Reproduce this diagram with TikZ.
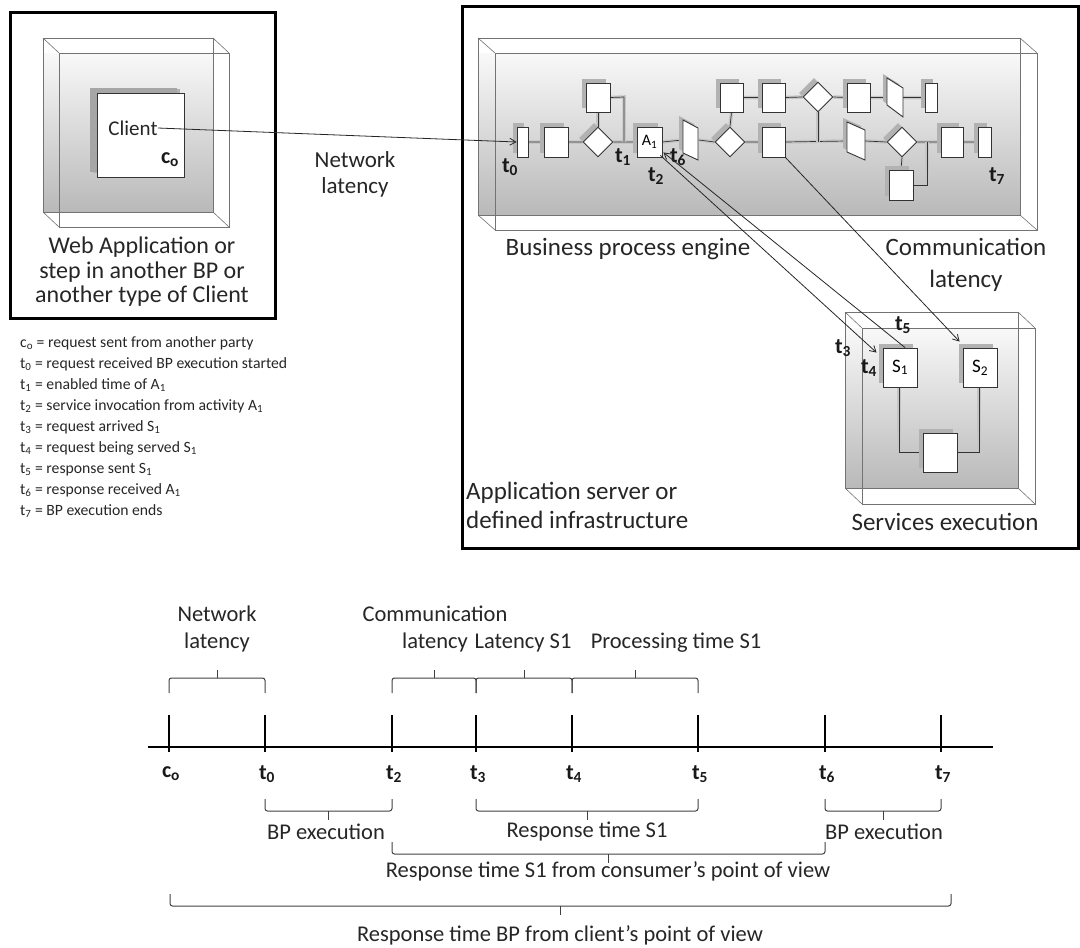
\documentclass[tikz,border=0pt]{standalone}
\usepackage{fontspec}
\setmainfont{Carlito}
\usetikzlibrary{shapes.geometric,shadows,arrows.meta,calc}
\pgfdeclarelayer{back}
\pgfdeclarelayer{links}
\pgfsetlayers{back,links,main}
\newcommand{\glassbox}[6]{% back x1 y1 x2 y2, depth dx dy
  \fill[pane] (#1,#2+#6) rectangle (#3,#4);
  \draw[wall] (#1,#2) rectangle (#3,#4);
  \draw[wall] (#1+#5,#2+#6) rectangle (#3+#5,#4+#6);
  \draw[wall] (#1,#2) -- (#1+#5,#2+#6) (#3,#2) -- (#3+#5,#2+#6)
              (#1,#4) -- (#1+#5,#4+#6) (#3,#4) -- (#3+#5,#4+#6);
}
\newcommand{\brkup}[3]{% x1 x2 ybottom, tip up
  \draw[brk] (#1,#3) -- (#1,#3-15) -- (#2,#3-15) -- (#2,#3);
  \draw[brk] ({(#1+#2)/2},#3-15) -- ({(#1+#2)/2},#3-23);
}
\newcommand{\brkdown}[3]{% x1 x2 ytop, tip down
  \draw[brk] (#1,#3) -- (#1,#3+12) -- (#2,#3+12) -- (#2,#3);
  \draw[brk] ({(#1+#2)/2},#3+12) -- ({(#1+#2)/2},#3+21);
}
\begin{document}
\begin{tikzpicture}[x=1pt,y=-1pt,
  act/.style={draw=black!80, fill=white, line width=0.9pt, inner sep=0pt,
    drop shadow={shadow xshift=-4pt, shadow yshift=4pt, fill=gray!60, opacity=1}},
  dia/.style={act, diamond, minimum width=30, minimum height=30},
  para/.style={draw=black!80, fill=white, line width=0.9pt},
  parashadow/.style={fill=gray!60},
  link/.style={draw=black!80, line width=0.7pt, preaction={draw=gray!45, line width=3.5pt}},
  arr/.style={draw=black!85, line width=0.8pt, -{Straight Barb[length=6pt,width=7pt]}},
  frame/.style={draw=black, line width=3pt},
  wall/.style={draw=black!55, line width=0.6pt},
  pane/.style={top color=gray!5, bottom color=gray!55, draw=none},
  lbl/.style={font=\fontsize{25}{30}\selectfont, text=black!85, align=center, inner sep=0pt},
  tlab/.style={font=\bfseries\fontsize{22}{24}\selectfont, text=black!90, inner sep=0pt},
  leg/.style={font=\fontsize{15.7}{21}\selectfont, text=black!85, inner sep=0pt},
  tml/.style={font=\fontsize{22.5}{27}\selectfont, text=black!85, align=center, inner sep=0pt},
  brk/.style={draw=black!75, line width=1pt, rounded corners=2.5pt},
  axis/.style={draw=black, line width=1.3pt}
]
\useasboundingbox (0,0) rectangle (1080,948);

% ---------------- outer frames
\draw[frame] (10,12) rectangle (275,318);
\draw[frame] (462,6) rectangle (1078,548);

% ---------------- glass containers
\begin{pgfonlayer}{back}
\glassbox{43}{38}{213}{212}{16}{15}
\glassbox{478}{38}{1020}{215}{17}{15}
\glassbox{845}{312}{1018}{488}{17}{16}
\end{pgfonlayer}

% ---------------- client
\node[act, minimum width=87, minimum height=84, drop shadow={shadow xshift=-7pt, shadow yshift=5pt, fill=gray!70, opacity=1}] (client) at (140.5,135) {};
\node[font=\fontsize{21}{24}\selectfont, text=black!85, inner sep=0pt] (clienttxt) at (133,128) {Client};
\node[tlab] (c0lab) at (170,160) {c\textsubscript{o}};
\node[lbl, font=\fontsize{24}{24.5}\selectfont] (weblab) at (142,272) {Web Application or\\step in another BP or\\another type of Client};
\node[lbl, font=\fontsize{23}{26}\selectfont] (netlab) at (355,174) {Network\\latency};

% ---------------- BP engine: main row
\node[act, minimum width=11, minimum height=30] (t0r) at (522.5,142) {};
\node[act, minimum width=24, minimum height=30] (b1) at (556,142) {};
\node[dia] (d1) at (598,142) {};
\node[act, minimum width=24, minimum height=29] (u1) at (598,97.5) {};
\node[act, minimum width=25, minimum height=30, font=\fontsize{16}{17}\selectfont] (A1) at (649.5,142) {A\textsubscript{1}};
\node[inner sep=0pt, minimum width=16, minimum height=32] (p1) at (690.5,140) {};
\node[dia] (d2) at (730,142) {};
\node[act, minimum width=23, minimum height=29] (u2) at (731.5,97.5) {};
\node[act, minimum width=23, minimum height=30] (b2) at (773.5,142) {};
\node[inner sep=0pt, minimum width=18, minimum height=32] (p2) at (856,141) {};
\node[dia] (d3) at (902,142) {};
\node[act, minimum width=24, minimum height=30] (l1) at (901,185) {};
\node[act, minimum width=22, minimum height=30] (b3) at (952,142) {};
\node[act, minimum width=13, minimum height=30] (endr) at (984.5,142) {};
% top row
\node[act, minimum width=23, minimum height=29] (u3) at (773.5,97.5) {};
\node[dia] (d4) at (818,97) {};
\node[act, minimum width=23, minimum height=29] (u4) at (858.5,97.5) {};
\node[inner sep=0pt, minimum width=16, minimum height=32] (p3) at (895,97.5) {};
\node[act, minimum width=12, minimum height=29] (ue) at (931,97.5) {};

% parallelograms
\fill[parashadow] (679,116) -- (694,124) -- (694,156) -- (679,149) -- cycle;
\draw[para] (683,120) -- (698,128) -- (698,160) -- (683,153) -- cycle;
\fill[parashadow] (843,118) -- (861,126) -- (861,156) -- (843,148) -- cycle;
\draw[para] (847,122) -- (865,130) -- (865,160) -- (847,152) -- cycle;
\fill[parashadow] (883,74) -- (899,84) -- (899,113) -- (883,101) -- cycle;
\draw[para] (887,78) -- (903,88) -- (903,117) -- (887,105) -- cycle;

% links
\coordinate (k1) at (624,97);
\coordinate (k1b) at (624,142);
\coordinate (k2) at (927,185);
\coordinate (k2b) at (927,142);
\coordinate (k4) at (818,142);
\begin{pgfonlayer}{links}
\draw[link] (t0r.east) -- (b1.west) (b1.east) -- (d1.west) (d1.east) -- (A1.west)
            (A1.east) -- (p1.west) (p1.east) -- (d2.west) (d2.east) -- (b2.west)
            (b2.east) -- (p2.west) (p2.east) -- (d3.west) (d3.east) -- (b3.west)
            (b3.east) -- (endr.west);
\draw[link] (d1.north) -- (u1.south);
\draw[link] (u1.east) -- (k1) -- (k1b);
\draw[link] (d2.north) -- (u2.south);
\draw[link] (u2.east) -- (u3.west) (u3.east) -- (d4.west) (d4.east) -- (u4.west)
            (u4.east) -- (p3.west) (p3.east) -- (ue.west);
\draw[link] (d4.south) -- (k4);
\draw[link] (d3.south) -- (l1.north);
\draw[link] (l1.east) -- (k2) -- (k2b);
\end{pgfonlayer}

% BP labels
\node[tlab] (lt0) at (510,167) {t\textsubscript{0}};
\node[tlab] (lt1) at (623,157) {t\textsubscript{1}};
\node[tlab] (lt2) at (656,176) {t\textsubscript{2}};
\node[tlab] (lt6) at (678,157) {t\textsubscript{6}};
\node[tlab] (lt7) at (997,176) {t\textsubscript{7}};
\node[lbl] (bpe) at (628,249) {Business process engine};
\node[lbl, font=\fontsize{25}{32}\selectfont] (comm) at (966,265) {Communication\\latency};
\node[lbl, anchor=west, align=left, font=\fontsize{25}{29}\selectfont] (appsrv) at (466,505) {Application server or\\defined infrastructure};

% ---------------- services
\node[act, minimum width=34, minimum height=39, font=\fontsize{19}{20}\selectfont] (S1) at (900,367.5) {S\textsubscript{1}};
\node[act, minimum width=34, minimum height=39, font=\fontsize{19}{20}\selectfont] (S2) at (980,367.5) {S\textsubscript{2}};
\node[act, minimum width=34, minimum height=39] (sb) at (940,452.5) {};
\coordinate (s1k) at (899,452.5);
\coordinate (s2k) at (979,452.5);
\begin{pgfonlayer}{links}
\draw[link] (S1.south -| s1k) -- (s1k) -- (sb.west);
\draw[link] (S2.south -| s2k) -- (s2k) -- (sb.east);
\end{pgfonlayer}
\node[lbl] (svc) at (945,522) {Services execution};
\node[tlab] (lt3) at (843,348) {t\textsubscript{3}};
\node[tlab] (lt4) at (869,368) {t\textsubscript{4}};
\node[tlab] (lt5) at (903,325) {t\textsubscript{5}};

% ---------------- arrows
\draw[arr] (clienttxt.east) -- (t0r.west);
\draw[arr] ([xshift=-2pt,yshift=2pt]A1.south east) -- ([xshift=-6pt,yshift=-5pt]S1.north west);
\draw[arr] ([xshift=5pt]S1.north) -- ([xshift=1pt,yshift=5pt]A1.south east);
\draw[arr] (b2.south east) -- ([xshift=-3pt,yshift=6pt]S2.north west);

% ---------------- legend
\node[leg, anchor=west, align=left] (legend) at (20,427) {%
c\textsubscript{o} = request sent from another party\\
t\textsubscript{0} = request received BP execution started\\
t\textsubscript{1} = enabled time of A\textsubscript{1}\\
t\textsubscript{2} = service invocation from activity A\textsubscript{1}\\
t\textsubscript{3} = request arrived S\textsubscript{1}\\
t\textsubscript{4} = request being served S\textsubscript{1}\\
t\textsubscript{5} = response sent S\textsubscript{1}\\
t\textsubscript{6} = response received A\textsubscript{1}\\
t\textsubscript{7} = BP execution ends};

% ---------------- timeline
\coordinate (ax0) at (148,747);
\coordinate (ax1) at (993,747);
\draw[axis] (ax0) -- (ax1);
\foreach \n/\x/\t in {Tc/169/c\textsubscript{o}, T0/265/t\textsubscript{0}, T2/392/t\textsubscript{2},
  T3/476/t\textsubscript{3}, T4/572/t\textsubscript{4}, T5/698/t\textsubscript{5},
  T6/825/t\textsubscript{6}, T7/941/t\textsubscript{7}} {
  \coordinate (\n) at (\x,715);
  \draw[axis] (\n) -- (\x,752);
  \node[tlab] (L\n) at (\x+2,774) {\t};
}
\brkup{169}{265}{693}
\brkup{392}{476}{693}
\brkup{476}{572}{693}
\brkup{572}{698}{693}
\node[tml] (nl) at (217,629) {Network\\latency};
\node[tml] (cl) at (435,629) {Communication\\latency};
\node[tml] (ls1) at (523,643) {Latency S1};
\node[tml] (pt1) at (676,643) {Processing time S1};

\brkdown{265}{392}{799}
\brkdown{476}{698}{799}
\brkdown{825}{941}{799}
\brkdown{392}{825}{842}
\brkdown{170}{951}{894}
\node[tml] (bx1) at (326,832) {BP execution};
\node[tml] (rs1) at (587,832) {Response time S1};
\node[tml] (bx2) at (884,832) {BP execution};
\node[tml] (rsc) at (608,871) {Response time S1 from consumer’s point of view};
\node[tml] (rbp) at (560,935) {Response time BP from client’s point of view};
\end{tikzpicture}
\end{document}
